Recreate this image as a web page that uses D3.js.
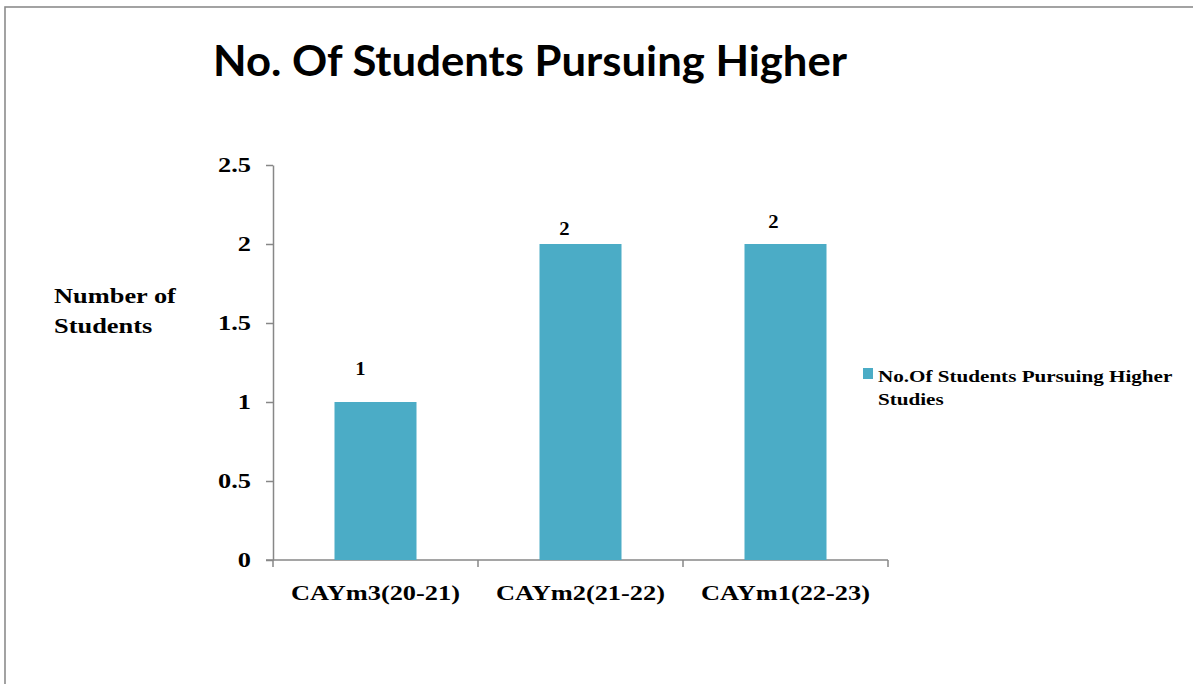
<!DOCTYPE html>
<html>
<head>
<meta charset="utf-8">
<script src="https://cdn.jsdelivr.net/npm/d3@7"></script>
<style>
	body { margin: 0; background: #fff; }
	text { font-family: "Liberation Serif", "Times New Roman", serif; font-weight: bold; fill: #000; }
</style>
</head>
<body>
<svg id="chart" width="1193" height="684"></svg>
<script>
// chart data
var categories = ['CAYm3(20-21)', 'CAYm2(21-22)', 'CAYm1(22-23)'];
var values = [1, 2, 2];
var yTicks = [0, 0.5, 1, 1.5, 2, 2.5];
var seriesName = ['No.Of Students Pursuing Higher', 'Studies'];
var yTitle = ['Number of', 'Students'];
var chartTitle = 'No. Of Students Pursuing Higher';

// label nudges (layout only)
var labelNudge = [[-15, -27], [-16, -9], [-12, -16]];

var stretch = 1.32;   // picture is wider than tall, text too
var barColor = '#4BACC6';
var axisColor = '#878787';

var svg = d3.select('#chart');

// outer frame
svg.append('rect')
	.attr('x', 5).attr('y', 7)
	.attr('width', 1200).attr('height', 700)
	.attr('fill', 'none')
	.attr('stroke', '#8c8c8c')
	.attr('stroke-width', 1.6);

// title
svg.append('text')
	.attr('x', 213).attr('y', 76)
	.attr('textLength', 634)
	.attr('lengthAdjust', 'spacingAndGlyphs')
	.style('font-family', 'Lato, "Open Sans", sans-serif')
	.style('font-size', '42px')
	.text(chartTitle);

var x = d3.scaleBand().domain(categories).range([273, 888]);
var y = d3.scaleLinear().domain([0, 2.5]).range([560, 165]);

// y axis
var yAxis = svg.append('g')
	.attr('transform', 'translate(273,0)')
	.call(d3.axisLeft(y).tickValues(yTicks).tickSize(7).tickSizeOuter(0)
		.tickFormat(function(d) { return d; }));
yAxis.selectAll('path, line').attr('stroke', axisColor).attr('stroke-width', 1.5);
yAxis.selectAll('text')
	.attr('x', 0)
	.attr('transform', 'translate(-22,0) scale(' + stretch + ',1)')
	.style('font-size', '20px')
	.style('font-family', '"Liberation Serif", serif');
// y axis line reaches down to the x axis tick length
svg.append('line')
	.attr('x1', 273).attr('x2', 273)
	.attr('y1', y(0)).attr('y2', y(0) + 7)
	.attr('stroke', axisColor).attr('stroke-width', 1.5);

// x axis
svg.append('line')
	.attr('x1', 266).attr('x2', x.range()[1])
	.attr('y1', y(0)).attr('y2', y(0))
	.attr('stroke', axisColor).attr('stroke-width', 1.5);
var edges = categories.map(function(c) { return x(c) + x.bandwidth(); });
svg.selectAll('.xtick').data(edges).enter().append('line')
	.attr('class', 'xtick')
	.attr('x1', function(d) { return d; }).attr('x2', function(d) { return d; })
	.attr('y1', y(0)).attr('y2', y(0) + 7)
	.attr('stroke', axisColor).attr('stroke-width', 1.5);

svg.selectAll('.xlab').data(categories).enter().append('text')
	.attr('class', 'xlab')
	.attr('text-anchor', 'middle')
	.attr('transform', function(d) {
		return 'translate(' + (x(d) + x.bandwidth() / 2) + ',600) scale(' + stretch + ',1)';
	})
	.style('font-size', '20px')
	.text(function(d) { return d; });

// bars
var barW = x.bandwidth() * 0.4;
svg.selectAll('.bar').data(values).enter().append('rect')
	.attr('class', 'bar')
	.attr('x', function(d, i) { return x(categories[i]) + (x.bandwidth() - barW) / 2; })
	.attr('y', function(d) { return y(d); })
	.attr('width', barW)
	.attr('height', function(d) { return y(0) - y(d); })
	.attr('fill', barColor);

// value labels
svg.selectAll('.vlab').data(values).enter().append('text')
	.attr('class', 'vlab')
	.attr('text-anchor', 'middle')
	.attr('transform', function(d, i) {
		var cx = x(categories[i]) + x.bandwidth() / 2 + labelNudge[i][0];
		return 'translate(' + cx + ',' + (y(d) + labelNudge[i][1]) + ') scale(1.15,1)';
	})
	.style('font-size', '18px')
	.text(function(d) { return d; });

// y axis title
svg.selectAll('.ytitle').data(yTitle).enter().append('text')
	.attr('class', 'ytitle')
	.attr('transform', function(d, i) { return 'translate(54,' + (303 + i * 30) + ') scale(' + stretch + ',1)'; })
	.style('font-size', '20px')
	.text(function(d) { return d; });

// legend
svg.append('rect')
	.attr('x', 863).attr('y', 368)
	.attr('width', 10).attr('height', 11)
	.attr('fill', barColor);
svg.selectAll('.leg').data(seriesName).enter().append('text')
	.attr('class', 'leg')
	.attr('transform', function(d, i) { return 'translate(878,' + (382 + i * 23) + ') scale(' + stretch + ',1)'; })
	.style('font-size', '16px')
	.text(function(d) { return d; });
</script>
</body>
</html>
